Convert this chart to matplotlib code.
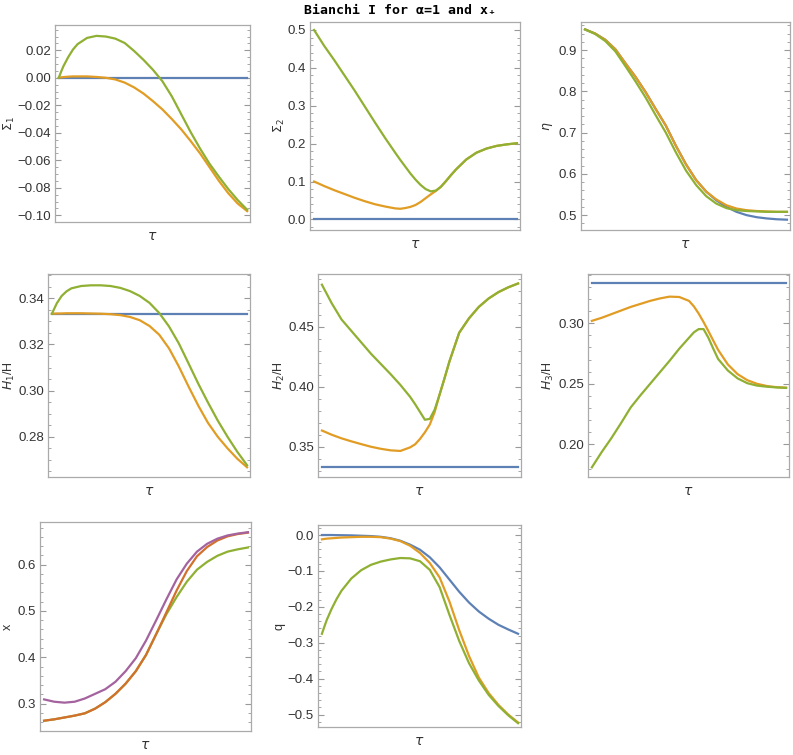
import matplotlib.pyplot as plt
from matplotlib.ticker import MultipleLocator

# Sigma_1
tau_s1 = [0.0, 0.0125, 0.025, 0.05, 0.075, 0.1, 0.15, 0.2, 0.25, 0.3, 0.35, 0.4,
          0.45, 0.5, 0.55, 0.6, 0.65, 0.7, 0.75, 0.8, 0.85, 0.9, 0.95, 1.0]
sig1_blue = [0.0] * len(tau_s1)
sig1_orange = [0.0, 0.0003, 0.0005, 0.0008, 0.001, 0.001, 0.001, 0.0006, 0.0, -0.0012, -0.0035, -0.0070,
               -0.0115, -0.0170, -0.0230, -0.0300, -0.0375, -0.0460, -0.0550, -0.0650, -0.0750, -0.0840,
               -0.0915, -0.0970]
sig1_green = [0.0, 0.0045, 0.0085, 0.0150, 0.0205, 0.0245, 0.0290, 0.0305, 0.0300, 0.0285, 0.0253, 0.0195,
              0.0130, 0.0058, -0.0025, -0.0135, -0.0265, -0.0395, -0.0515, -0.0625, -0.0720, -0.0810,
              -0.0890, -0.0960]

# Sigma_2
tau_s2 = [0.0, 0.05, 0.1, 0.15, 0.2, 0.25, 0.3, 0.35, 0.4, 0.425, 0.45, 0.475, 0.5, 0.525,
          0.55, 0.575, 0.6, 0.625, 0.65, 0.675, 0.7, 0.75, 0.8, 0.85, 0.9, 0.95, 1.0]
sig2_blue = [0.0] * len(tau_s2)
sig2_orange = [0.100, 0.088, 0.077, 0.067, 0.057, 0.048, 0.040, 0.034, 0.029, 0.028, 0.030, 0.033, 0.038,
               0.046, 0.056, 0.066, 0.075, 0.086, 0.101, 0.117, 0.132, 0.158, 0.176, 0.187, 0.194,
               0.198, 0.201]
sig2_green = [0.500, 0.458, 0.420, 0.380, 0.340, 0.298, 0.256, 0.215, 0.176, 0.157, 0.139, 0.121, 0.105,
              0.091, 0.080, 0.074, 0.076, 0.086, 0.101, 0.117, 0.132, 0.158, 0.176, 0.187, 0.194,
              0.198, 0.201]

# eta
tau_eta = [0.0, 0.05, 0.1, 0.15, 0.2, 0.25, 0.3, 0.35, 0.4, 0.45, 0.5,
           0.55, 0.6, 0.65, 0.7, 0.75, 0.8, 0.85, 0.9, 0.95, 1.0]
eta_blue = [0.950, 0.940, 0.925, 0.902, 0.868, 0.835, 0.798, 0.757, 0.717, 0.668, 0.623,
            0.585, 0.557, 0.536, 0.520, 0.508, 0.500, 0.495, 0.492, 0.490, 0.489]
eta_orange = [0.950, 0.940, 0.925, 0.902, 0.868, 0.835, 0.798, 0.757, 0.717, 0.668, 0.623,
              0.585, 0.557, 0.538, 0.524, 0.516, 0.512, 0.510, 0.509, 0.508, 0.508]
eta_green = [0.950, 0.939, 0.922, 0.897, 0.861, 0.824, 0.785, 0.742, 0.700, 0.652, 0.608,
             0.573, 0.546, 0.528, 0.517, 0.512, 0.510, 0.509, 0.508, 0.508, 0.508]

# H1/H
tau_h1 = [0.0, 0.025, 0.05, 0.075, 0.1, 0.15, 0.2, 0.25, 0.3, 0.35, 0.4, 0.45,
          0.5, 0.55, 0.6, 0.65, 0.7, 0.75, 0.8, 0.85, 0.9, 0.95, 1.0]
h1_blue = [1 / 3] * len(tau_h1)
h1_orange = [0.3333, 0.3334, 0.3334, 0.3335, 0.3335, 0.3335, 0.3334, 0.3333, 0.3331, 0.3327, 0.3319, 0.3305,
             0.3280, 0.3242, 0.3183, 0.3105, 0.3018, 0.2935, 0.2860, 0.2800, 0.2750, 0.2705, 0.2668]
h1_green = [0.3333, 0.3378, 0.3410, 0.3430, 0.3443, 0.3453, 0.3456, 0.3456, 0.3453, 0.3445, 0.3431, 0.3410,
            0.3380, 0.3336, 0.3278, 0.3205, 0.3118, 0.3030, 0.2948, 0.2870, 0.2800, 0.2735, 0.2677]

# H2/H
tau_h2 = [0.0, 0.05, 0.1, 0.15, 0.2, 0.25, 0.3, 0.35, 0.4, 0.45, 0.475, 0.5, 0.525,
          0.55, 0.575, 0.6, 0.625, 0.65, 0.7, 0.75, 0.8, 0.85, 0.9, 0.95, 1.0]
h2_blue = [1 / 3] * len(tau_h2)
h2_orange = [0.3635, 0.3600, 0.3570, 0.3545, 0.3522, 0.3500, 0.3483, 0.3470, 0.3465, 0.3495, 0.3520, 0.3565,
             0.3620, 0.3685, 0.3790, 0.3935, 0.4070, 0.4210, 0.4450, 0.4570, 0.4665, 0.4735, 0.4788,
             0.4828, 0.4860]
h2_green = [0.4850, 0.4695, 0.4560, 0.4465, 0.4370, 0.4275, 0.4190, 0.4105, 0.4015, 0.3915, 0.3855, 0.3790,
            0.3725, 0.3732, 0.3810, 0.3935, 0.4070, 0.4210, 0.4450, 0.4570, 0.4665, 0.4735, 0.4788,
            0.4828, 0.4860]

# H3/H
tau_h3 = [0.0, 0.05, 0.1, 0.15, 0.2, 0.25, 0.3, 0.35, 0.4, 0.45, 0.5, 0.525, 0.55,
          0.575, 0.6, 0.625, 0.65, 0.7, 0.75, 0.8, 0.85, 0.9, 0.95, 1.0]
h3_blue = [1 / 3] * len(tau_h3)
h3_orange = [0.3020, 0.3045, 0.3075, 0.3105, 0.3135, 0.3160, 0.3185, 0.3205, 0.3220, 0.3217, 0.3185, 0.3140,
             0.3080, 0.3010, 0.2935, 0.2857, 0.2780, 0.2660, 0.2580, 0.2530, 0.2500, 0.2482, 0.2472, 0.2468]
h3_green = [0.1810, 0.1935, 0.2050, 0.2175, 0.2305, 0.2405, 0.2500, 0.2595, 0.2690, 0.2790, 0.2880, 0.2925,
            0.2952, 0.2952, 0.2880, 0.2790, 0.2705, 0.2610, 0.2545, 0.2505, 0.2485, 0.2476, 0.2470, 0.2466]

# x
tau_x = [0.0, 0.05, 0.1, 0.15, 0.2, 0.25, 0.3, 0.35, 0.4, 0.45, 0.5,
         0.55, 0.6, 0.65, 0.7, 0.75, 0.8, 0.85, 0.9, 0.95, 1.0]
x_orange = [0.263, 0.266, 0.270, 0.274, 0.279, 0.289, 0.303, 0.321, 0.343, 0.370, 0.405,
            0.450, 0.497, 0.544, 0.586, 0.618, 0.638, 0.652, 0.661, 0.666, 0.669]
x_green = [0.263, 0.266, 0.270, 0.274, 0.279, 0.289, 0.303, 0.321, 0.343, 0.370, 0.405,
           0.450, 0.493, 0.530, 0.563, 0.589, 0.606, 0.619, 0.628, 0.633, 0.637]
x_purple = [0.309, 0.304, 0.302, 0.304, 0.311, 0.321, 0.331, 0.347, 0.370, 0.398, 0.436,
            0.480, 0.525, 0.568, 0.602, 0.628, 0.645, 0.656, 0.663, 0.667, 0.670]

# q
tau_q = [0.0, 0.0125, 0.025, 0.05, 0.075, 0.1, 0.15, 0.2, 0.25, 0.3, 0.35, 0.4,
         0.45, 0.5, 0.55, 0.6, 0.65, 0.7, 0.75, 0.8, 0.85, 0.9, 0.95, 1.0]
q_blue = [0.000, 0.000, 0.000, 0.000, -0.0003, -0.0005, -0.001, -0.002, -0.003, -0.005, -0.009, -0.016,
          -0.027, -0.041, -0.062, -0.090, -0.124, -0.158, -0.188, -0.213, -0.233, -0.250, -0.263, -0.275]
q_orange = [-0.012, -0.011, -0.010, -0.009, -0.008, -0.007, -0.006, -0.005, -0.005, -0.006, -0.010, -0.017,
            -0.030, -0.050, -0.078, -0.118, -0.185, -0.265, -0.337, -0.397, -0.440, -0.473, -0.500, -0.522]
q_green = [-0.275, -0.255, -0.236, -0.205, -0.178, -0.155, -0.121, -0.098, -0.083, -0.074, -0.068, -0.064,
           -0.065, -0.073, -0.097, -0.145, -0.222, -0.295, -0.357, -0.405, -0.445, -0.476, -0.502, -0.524]

BLUE = '#5E81B5'
ORANGE = '#E19C24'
GREEN = '#8FB032'
DARK_ORANGE = '#D2702C'
PURPLE = '#A4639E'

W, H = 793, 755


def make_axes(fig, left, right, top, bottom):
    ax = fig.add_axes([left / W, 1 - bottom / H, (right - left) / W, (bottom - top) / H])
    ax.box_px = (left, right)
    return ax


def fmt(decimals):
    def f(v, _):
        if abs(v) < 1e-9:
            v = 0.0
        return f'{v:.{decimals}f}'.replace('-', '\u2212')
    return plt.FuncFormatter(f)


def style(ax, ylabel, label_x, ylim, major, minor, decimals):
    ax.set_xlim(-0.02, 1.015)
    ax.set_ylim(*ylim)
    ax.set_xticks([])
    ax.yaxis.set_major_locator(MultipleLocator(major))
    ax.yaxis.set_minor_locator(MultipleLocator(minor))
    ax.yaxis.set_major_formatter(fmt(decimals))
    ax.tick_params(axis='y', which='both', direction='in', left=True, right=True,
                   color='#999999', labelsize=9.5, labelcolor='#333333', pad=3)
    ax.tick_params(axis='y', which='major', length=4, width=0.8)
    ax.tick_params(axis='y', which='minor', length=2, width=0.6)
    for s in ax.spines.values():
        s.set_color('#AAAAAA')
        s.set_linewidth(0.9)
    ax.set_ylabel(ylabel, fontsize=9, color='#333333', va='center')
    left, right = ax.box_px
    ax.yaxis.set_label_coords((label_x - left) / (right - left), 0.5)
    ax.set_xlabel(r'$\tau$', fontsize=10, color='#333333', labelpad=5)


def main():
    plt.rcParams['font.family'] = ['Liberation Sans', 'DejaVu Sans']
    plt.rcParams['mathtext.fontset'] = 'dejavusans'
    fig = plt.figure(figsize=(W / 100, H / 100), dpi=100)
    lw = 1.6

    ax = make_axes(fig, 55, 250, 25, 222)
    ax.plot(tau_s1, sig1_blue, color=BLUE, lw=lw)
    ax.plot(tau_s1, sig1_orange, color=ORANGE, lw=lw)
    ax.plot(tau_s1, sig1_green, color=GREEN, lw=lw)
    style(ax, r'$\Sigma_1$', 9, (-0.1049, 0.0384), 0.02, 0.005, 2)

    ax = make_axes(fig, 310, 520, 22, 230)
    ax.plot(tau_s2, sig2_blue, color=BLUE, lw=lw)
    ax.plot(tau_s2, sig2_orange, color=ORANGE, lw=lw)
    ax.plot(tau_s2, sig2_green, color=GREEN, lw=lw)
    style(ax, r'$\Sigma_2$', 279, (-0.028, 0.521), 0.1, 0.02, 1)

    ax = make_axes(fig, 581, 790, 22, 230)
    ax.plot(tau_eta, eta_blue, color=BLUE, lw=lw)
    ax.plot(tau_eta, eta_orange, color=ORANGE, lw=lw)
    ax.plot(tau_eta, eta_green, color=GREEN, lw=lw)
    style(ax, r'$\eta$', 548, (0.464, 0.968), 0.1, 0.02, 1)

    ax = make_axes(fig, 48, 250, 274, 477)
    ax.plot(tau_h1, h1_blue, color=BLUE, lw=lw)
    ax.plot(tau_h1, h1_orange, color=ORANGE, lw=lw)
    ax.plot(tau_h1, h1_green, color=GREEN, lw=lw)
    style(ax, r'$H_1$/H', 9, (0.2626, 0.3505), 0.02, 0.005, 2)

    ax = make_axes(fig, 318, 521, 274, 477)
    ax.plot(tau_h2, h2_blue, color=BLUE, lw=lw)
    ax.plot(tau_h2, h2_orange, color=ORANGE, lw=lw)
    ax.plot(tau_h2, h2_green, color=GREEN, lw=lw)
    style(ax, r'$H_2$/H', 279, (0.3248, 0.4939), 0.05, 0.01, 2)

    ax = make_axes(fig, 588, 789, 274, 477)
    ax.plot(tau_h3, h3_blue, color=BLUE, lw=lw)
    ax.plot(tau_h3, h3_orange, color=ORANGE, lw=lw)
    ax.plot(tau_h3, h3_green, color=GREEN, lw=lw)
    style(ax, r'$H_3$/H', 548, (0.173, 0.3407), 0.05, 0.01, 2)

    ax = make_axes(fig, 40, 251, 522, 731)
    ax.plot(tau_x, x_green, color=GREEN, lw=lw)
    ax.plot(tau_x, x_orange, color=DARK_ORANGE, lw=lw)
    ax.plot(tau_x, x_purple, color=PURPLE, lw=lw)
    style(ax, 'x', 8, (0.2408, 0.692), 0.1, 0.02, 1)

    ax = make_axes(fig, 318, 521, 525, 727)
    ax.plot(tau_q, q_blue, color=BLUE, lw=lw)
    ax.plot(tau_q, q_orange, color=ORANGE, lw=lw)
    ax.plot(tau_q, q_green, color=GREEN, lw=lw)
    style(ax, 'q', 279, (-0.5346, 0.0279), 0.1, 0.02, 1)

    fig.text(400 / W, 1 - 10 / H, 'Bianchi I for \u03b1=1 and x\u208a', ha='center', va='center',
             fontsize=9.5, fontweight='bold', family=['DejaVu Sans Mono', 'DejaVu Sans'])

    fig.savefig('out.png', dpi=100)


if __name__ == "__main__":
    main()
